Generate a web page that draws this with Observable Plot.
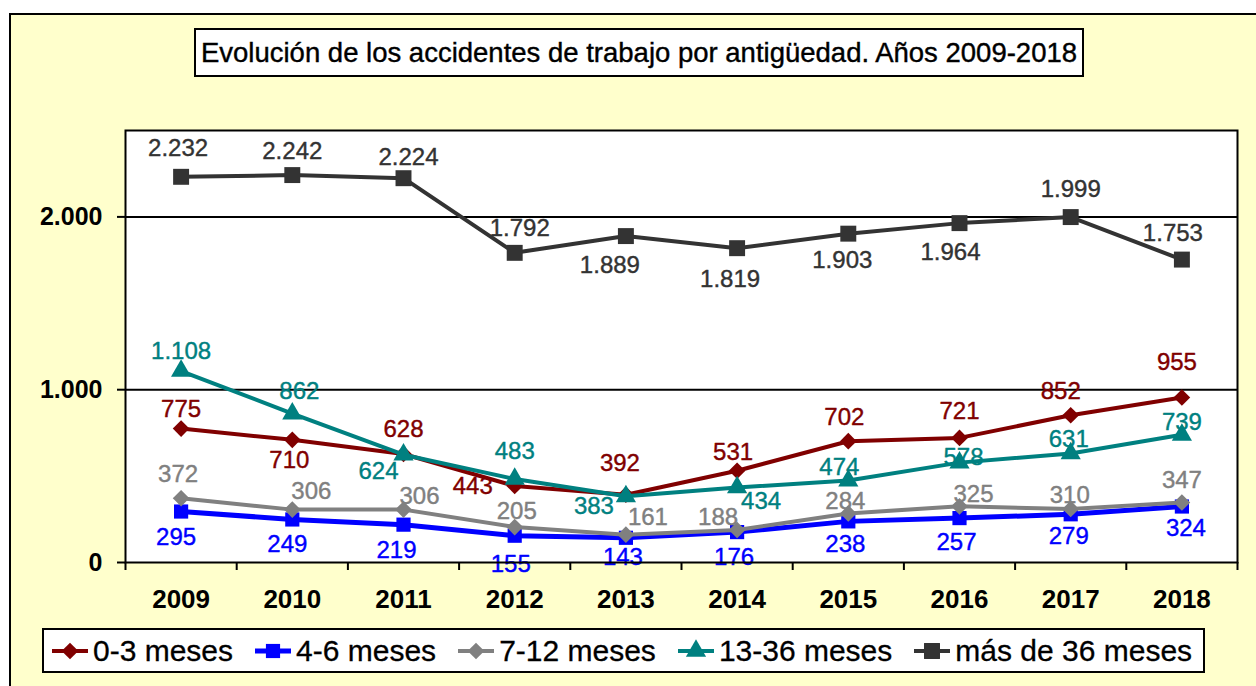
<!DOCTYPE html>
<html>
<head>
<meta charset="utf-8">
<script src="https://cdn.jsdelivr.net/npm/d3@7"></script>
<script src="https://cdn.jsdelivr.net/npm/@observablehq/plot@0.6"></script>
<style>
  html, body { margin: 0; padding: 0; }
  body { width: 1256px; height: 686px; overflow: hidden; position: relative; background: #fff;
         font-family: "Liberation Sans", Arial, Helvetica, sans-serif; color: #000; }
  #bg { position: absolute; left: 9px; top: 13px; width: 1300px; height: 700px; background: #FFFFCC; border: 2px solid #000; }
  #title { position: absolute; left: 194px; top: 28px; width: 890px; height: 49px; box-sizing: border-box;
           border: 2px solid #000; background: #fff; font-size: 27.5px; display: flex; align-items: center;
           justify-content: center; white-space: nowrap; -webkit-text-stroke: 0.4px #000; }
  #chart { position: absolute; left: 0; top: 100px; }
  #chart text { paint-order: stroke; }
  #legend { position: absolute; left: 42px; top: 628px; width: 1163px; height: 45px; box-sizing: border-box;
            border: 2px solid #000; background: #fff; display: flex; align-items: center; padding-left: 8px;
            font-size: 30px; white-space: nowrap; -webkit-text-stroke: 0.3px #000; }
  #legend .item { display: flex; align-items: center; margin-right: 22px; }
  #legend svg { margin-right: 5px; overflow: visible; }
</style>
</head>
<body>
<div id="bg"></div>
<div id="title"></div>
<div id="chart"></div>
<div id="legend"></div>
<script>
// ---- data ----
const titleText = "Evolución de los accidentes de trabajo por antigüedad. Años 2009-2018";
const years = [2009, 2010, 2011, 2012, 2013, 2014, 2015, 2016, 2017, 2018];
const seriesNames = ["0-3 meses", "4-6 meses", "7-12 meses", "13-36 meses", "más de 36 meses"];
const meses0a3 = [775, 710, 628, 443, 392, 531, 702, 721, 852, 955];
const meses4a6 = [295, 249, 219, 155, 143, 176, 238, 257, 279, 324];
const meses7a12 = [372, 306, 306, 205, 161, 188, 284, 325, 310, 347];
const meses13a36 = [1108, 862, 624, 483, 383, 434, 474, 578, 631, 739];
const masDe36 = [2232, 2242, 2224, 1792, 1889, 1819, 1903, 1964, 1999, 1753];
const yTicks = [0, 1000, 2000];

// ---- styles / layout ----
const colors = ["#800000", "#0000FF", "#808080", "#008080", "#333333"];
const symbolNames = ["diamond2", "square", "diamond2", "triangle", "square"];
const d3Symbols = {diamond2: d3.symbolDiamond2, square: d3.symbolSquare, triangle: d3.symbolTriangle};
const markerR = [7.5, 8, 7.5, 7.5, 9];
const lineWidths = [4, 5, 4, 4, 4];
// data-label offsets in px (dx, dy) per point
const labelDx = [
  [0, -3, 0, -42, -6, -4, -4, 0, -10, -5],
  [-5, -5, -7, -4, -3, -3, -3, -3, -2, 4],
  [-3, 19, 16, 2, 22, -19, -3, 14, -1, 0],
  [0, 7, -25, 0, -32, 24, -9, 4, -2, 0],
  [-3, 0, 5, 5, -16, -7, -6, -9, 0, -9]
];
const labelDy = [
  [-19, 21, -25, 0, -31, -18, -24, -27, -24, -35],
  [26, 25, 26, 29, 20, 25, 23, 24, 22, 22],
  [-24, -18, -13, -16, -17, -13, -12, -12, -14, -22],
  [-20, -22, 17, -28, 10, 14, -13, -5, -14, -12],
  [-28, -24, -21, -25, 29, 31, 27, 29, -28, -26]
];

const values = [meses0a3, meses4a6, meses7a12, meses13a36, masDe36];
const fmt = d3.formatLocale({decimal: ",", thousands: ".", grouping: [3], currency: ["", " €"]}).format(",d");
const FONT = '"Liberation Sans", Arial, Helvetica, sans-serif';

document.getElementById("title").textContent = titleText;

const marks = [Plot.frame({fill: "white"}), Plot.ruleY([1000, 2000], {stroke: "black", strokeWidth: 2})];
const seriesRows = seriesNames.map((name, s) =>
  years.map((year, i) => ({series: name, year, value: values[s][i], dx: labelDx[s][i], dy: labelDy[s][i]})));

seriesRows.forEach((rows, s) => {
  marks.push(Plot.line(rows, {x: "year", y: "value", stroke: colors[s], strokeWidth: lineWidths[s]}));
  marks.push(Plot.dot(rows, {x: "year", y: "value", symbol: symbolNames[s], fill: colors[s], stroke: "none", r: markerR[s]}));
});
seriesRows.forEach((rows, s) => {
  rows.forEach(d => {
    marks.push(Plot.text([d], {x: "year", y: "value", text: r => fmt(r.value), fill: colors[s],
      stroke: colors[s], strokeWidth: 0.4, dx: d.dx, dy: d.dy, fontSize: 24}));
  });
});
marks.push(Plot.frame({stroke: "black", strokeWidth: 2}));
marks.push(Plot.axisY({ticks: yTicks, tickSize: 8, tickPadding: 15, tickFormat: fmt, fontSize: 25,
  fontWeight: "bold", strokeWidth: 2, label: null}));
marks.push(Plot.axisX({ticks: d3.range(years[0] - 0.5, years[years.length - 1] + 1, 1), tickSize: 8,
  tickFormat: () => "", strokeWidth: 2, label: null}));
marks.push(Plot.axisX({ticks: years, tickSize: 0, tickPadding: 27, tickFormat: d => String(d), fontSize: 26,
  fontWeight: "bold", label: null}));

const chart = Plot.plot({
  width: 1256,
  height: 517,
  marginLeft: 125,
  marginRight: 19,
  marginTop: 30,
  marginBottom: 55,
  x: {domain: [years[0] - 0.5, years[years.length - 1] + 0.5]},
  y: {domain: [0, 2500]},
  style: {background: "transparent", fontFamily: FONT, color: "black", overflow: "visible"},
  marks
});
document.getElementById("chart").appendChild(chart);

// legend
const legend = document.getElementById("legend");
seriesNames.forEach((name, s) => {
  const item = document.createElement("div");
  item.className = "item";
  const svg = d3.create("svg").attr("width", 36).attr("height", 20);
  svg.append("line").attr("x1", 0).attr("x2", 36).attr("y1", 10).attr("y2", 10)
    .attr("stroke", colors[s]).attr("stroke-width", lineWidths[s]);
  svg.append("path").attr("transform", "translate(18,10)")
    .attr("d", d3.symbol(d3Symbols[symbolNames[s]], Math.PI * markerR[s] * markerR[s])())
    .attr("fill", colors[s]);
  item.appendChild(svg.node());
  const span = document.createElement("span");
  span.textContent = name;
  item.appendChild(span);
  legend.appendChild(item);
});
</script>
</body>
</html>
